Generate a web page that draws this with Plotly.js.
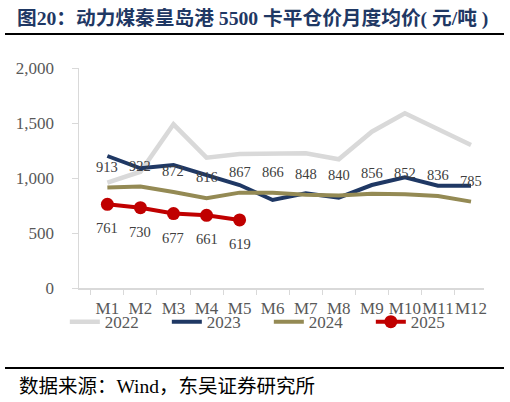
<!DOCTYPE html>
<html>
<head>
<meta charset="utf-8">
<script src="https://cdn.plot.ly/plotly-3.0.1.min.js"></script>
<style>html,body{margin:0;padding:0;background:#fff;}#chart{width:510px;height:402px;}</style>
</head>
<body>
<div id="chart"></div>
<script>
const months = ["M1","M2","M3","M4","M5","M6","M7","M8","M9","M10","M11","M12"];
const y2022 = [957,1057,1488,1185,1218,1218,1224,1170,1421,1588,1442,1300];
const y2023 = [1200,1088,1118,1027,936,800,861,821,936,1006,930,930];
const y2024 = [913,922,872,816,867,866,848,840,856,852,836,785];
const y2025 = [761,730,677,661,619];
const months2025 = months.slice(0, y2025.length);

const serif = "'Liberation Serif','Times New Roman','Noto Sans CJK SC',serif";
const cjk = "'Liberation Serif','Noto Sans CJK SC',serif";

const traces = [
  {x: months, y: y2022, name: "2022", type: "scatter", mode: "lines",
   line: {color: "#d9d9d9", width: 4.5}},
  {x: months, y: y2023, name: "2023", type: "scatter", mode: "lines",
   line: {color: "#1f3864", width: 4}},
  {x: months, y: y2024, name: "2024", type: "scatter", mode: "lines",
   line: {color: "#948a54", width: 4}},
  {x: months2025, y: y2025, name: "2025", type: "scatter", mode: "lines+markers",
   line: {color: "#c00000", width: 4}, marker: {color: "#c00000", size: 13}}
];

const annotations = [];
y2024.forEach((v, i) => annotations.push({
  x: months[i], y: v, xref: "x", yref: "y", text: String(v), showarrow: false,
  yshift: 21, font: {family: serif, size: 14.5, color: "#404040"}
}));
y2025.forEach((v, i) => annotations.push({
  x: months2025[i], y: v, xref: "x", yref: "y", text: String(v), showarrow: false,
  yshift: -24, font: {family: serif, size: 14.5, color: "#404040"}
}));
annotations.push({
  xref: "paper", yref: "paper", x: -0.153, y: -0.4455, xanchor: "left", yanchor: "middle",
  text: "数据来源：Wind，东吴证券研究所", showarrow: false,
  font: {family: cjk, size: 19.5, color: "#000000"}
});

const layout = {
  width: 510, height: 402,
  margin: {l: 79, r: 26, t: 68, b: 114},
  paper_bgcolor: "#ffffff", plot_bgcolor: "#ffffff",
  title: {
    text: "<b>图20：动力煤秦皇岛港 5500 卡平仓价月度均价( 元/吨 )</b>",
    xref: "container", yref: "container", x: 17/510, xanchor: "left",
    y: 1 - 18/402, yanchor: "middle",
    font: {family: cjk, size: 19.7, color: "#1f3864"}
  },
  xaxis: {
    type: "category", showline: true, linecolor: "#d9d9d9", linewidth: 1.5,
    ticks: "outside", tickson: "boundaries", ticklen: 5, tickcolor: "#d9d9d9",
    showgrid: false, zeroline: false, fixedrange: true, tickangle: 0,
    tickfont: {family: serif, size: 17, color: "#595959"}, ticklabelstandoff: 4
  },
  yaxis: {
    range: [0, 2000], dtick: 500, tickformat: ",d",
    showline: true, linecolor: "#d9d9d9", linewidth: 1.5,
    ticks: "outside", ticklen: 6, tickcolor: "#d9d9d9",
    showgrid: false, zeroline: false, fixedrange: true,
    tickfont: {family: serif, size: 17, color: "#595959"}, ticklabelstandoff: 14
  },
  showlegend: true,
  legend: {
    orientation: "h", x: -0.035, xanchor: "left", y: -0.155, yanchor: "middle",
    entrywidth: 57, entrywidthmode: "pixels", bgcolor: "rgba(0,0,0,0)",
    font: {family: serif, size: 17, color: "#595959"}, tracegroupgap: 0
  },
  shapes: [
    {type: "line", xref: "paper", yref: "paper", x0: -0.1827, x1: 1.0494, y0: 1.1545, y1: 1.1545,
     line: {color: "#000000", width: 2}},
    {type: "line", xref: "paper", yref: "paper", x0: -0.1827, x1: 1.0494, y0: -0.3636, y1: -0.3636,
     line: {color: "#000000", width: 2}}
  ],
  annotations: annotations
};

Plotly.newPlot("chart", traces, layout, {displayModeBar: false, staticPlot: true});
</script>
</body>
</html>
